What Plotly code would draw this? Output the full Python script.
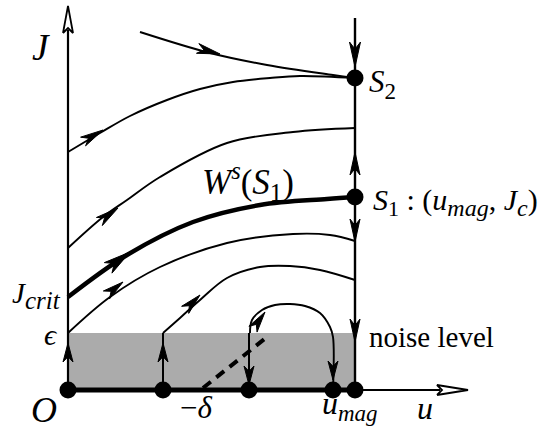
import numpy as np
import plotly.graph_objects as go

# ---------------- schematic data (u horizontal, J vertical; drawing units) ----------------
NOISE = 57          # noise level epsilon
JCRIT = 93
U_MAG = 287
U_AXIS_END = 400
J_AXIS_END = 384
S1 = (287, 193)
S2 = (287, 312)

# trajectories
top_u = [72, 142, 199, 265, 287]
top_J = [358, 337, 325, 315, 312]
A_u = [0, 32, 62, 99, 132, 165, 202, 232, 287]
A_J = [238, 257, 274, 290, 301, 308, 312, 314, 312]
B_u = [0, 35, 59, 92, 159, 225, 287]
B_J = [142, 173, 190, 213, 247, 258, 262]
C_u = [0, 59, 125, 192, 259, 287]          # W^s(S1), thick
C_J = [93, 135, 168, 185, 191, 193]
D_u = [0, 42, 92, 159, 225, 262, 287]
D_J = [57, 93, 123, 147, 156, 155, 149]
E_u = [95, 112, 132, 159, 192, 222, 252, 287]
E_J = [57, 72, 90, 112, 123, 124, 120, 110]
F_u = [182, 184, 194, 207, 222, 237, 252, 262, 265]
F_J = [57, 70, 80, 85, 86, 84, 77, 63, 53]
dash_u = [135, 199]
dash_J = [2, 53]

# points on the u axis
dots_u = [0, 95, 181, 265, 287]

# arrowheads: tip u, tip J, direction angle (deg), length, width
arr_u = [152, 35, 50, 62, 55, 132, 197, 0, 95, 181, 265, 287, 287, 287, 287]
arr_J = [336, 260, 182, 138, 108, 95, 78, 47, 47, 5, 10, 323, 238, 148, 48]
arr_ang = [-14, 30, 36, 36, 38, 45, 55, 90, 90, -90, -90, -90, 90, -90, -90]
arr_len = [23, 23, 23, 27, 21, 21, 21, 19, 19, 19, 19, 25, 23, 23, 23]
arr_wid = [10, 10, 10, 13, 10, 10, 10, 10, 10, 10, 10, 11, 10, 10, 10]

FONT = "Liberation Serif"
fig = go.Figure()


def line(u, J, w, shape="spline", dash=None):
    fig.add_trace(go.Scatter(x=u, y=J, mode="lines",
                             line=dict(color="black", width=w, shape=shape, dash=dash,
                                       smoothing=1.0),
                             hoverinfo="skip", showlegend=False))


# noise band
fig.add_trace(go.Scatter(x=[0, U_MAG, U_MAG, 0, 0], y=[0, 0, NOISE, NOISE, 0],
                         mode="lines", fill="toself", fillcolor="#ababab",
                         line=dict(width=0), hoverinfo="skip", showlegend=False))

# axes
line([0, 0], [0, J_AXIS_END - 24], 2.2, "linear")
line([U_MAG, U_AXIS_END - 28], [0, 0], 2.2, "linear")
line([0, U_MAG], [0, 0], 4.8, "linear")
# open arrowheads of the axes
ja = [-5, 0, 5, 0, -5]
jb = [J_AXIS_END - 27, J_AXIS_END, J_AXIS_END - 27, J_AXIS_END - 22, J_AXIS_END - 27]
fig.add_trace(go.Scatter(x=ja, y=jb, mode="lines", fill="toself", fillcolor="white",
                         line=dict(color="black", width=1.8), hoverinfo="skip", showlegend=False))
ua = [U_AXIS_END - 31, U_AXIS_END, U_AXIS_END - 31, U_AXIS_END - 26, U_AXIS_END - 31]
ub = [-5, 0, 5, 0, -5]
fig.add_trace(go.Scatter(x=ua, y=ub, mode="lines", fill="toself", fillcolor="white",
                         line=dict(color="black", width=1.8), hoverinfo="skip", showlegend=False))

# vertical line through S1, S2
line([U_MAG, U_MAG], [0, 372], 2.4, "linear")

# trajectories
line(top_u, top_J, 2.0)
line(A_u, A_J, 1.9)
line(B_u, B_J, 1.9)
line(C_u, C_J, 4.5)
line(D_u, D_J, 1.9)
line([95, 95], [0, NOISE], 2.0, "linear")
line(E_u, E_J, 1.9)
line([181, 181], [0, NOISE], 2.0, "linear")
line(F_u + [265], F_J + [0], 1.9)
line(dash_u, dash_J, 4, "linear", dash="10px,7px")

# arrowheads
xs, ys = [], []
for tu, tJ, a, L, W in zip(arr_u, arr_J, arr_ang, arr_len, arr_wid):
    d = np.array([np.cos(np.radians(a)), np.sin(np.radians(a))])
    n = np.array([-d[1], d[0]])
    T = np.array([tu, tJ], dtype=float)
    pts = [T, T - L * d + W / 2 * n, T - 0.72 * L * d, T - L * d - W / 2 * n, T]
    xs += [p[0] for p in pts] + [None]
    ys += [p[1] for p in pts] + [None]
fig.add_trace(go.Scatter(x=xs, y=ys, mode="lines", fill="toself", fillcolor="black",
                         line=dict(color="black", width=1), hoverinfo="skip", showlegend=False))

# points
fig.add_trace(go.Scatter(x=dots_u, y=[0] * len(dots_u), mode="markers",
                         marker=dict(color="black", size=17), hoverinfo="skip", showlegend=False))
fig.add_trace(go.Scatter(x=[S1[0], S2[0]], y=[S1[1], S2[1]], mode="markers",
                         marker=dict(color="black", size=17), hoverinfo="skip", showlegend=False))


def sub(t, s, italic=True):
    t = f"<i>{t}</i>" if italic else t
    return f'<sub><span style="font-size:{s}px">{t}</span></sub>'


# labels
labels = [
    (-27, 343, "<i>J</i>", "center", 37),
    (299, 306, "<i>S</i>" + sub("2", 23, False), "left", 31),
    (180, 209, "<i>W</i><sup><i>s</i></sup>(<i>S</i>" + sub("1", 25, False) + ")", "center", 35),
    (303, 188, "<i>S</i>" + sub("1", 22, False) + " : (<i>u</i>" + sub("mag", 24) + ", <i>J</i>"
     + sub("c", 24) + ")", "left", 30),
    (-5, 95, "<i>J</i>" + sub("crit", 25), "right", 29),
    (-17, 56, "<i>ϵ</i>", "center", 30),
    (299, 53, "noise level", "left", 29),
    (-24, -20, "<i>O</i>", "center", 36),
    (128, -17, "−<i>δ</i>", "center", 31),
    (282, -15, "<i>u</i>" + sub("mag", 23), "center", 32),
    (357, -18, "<i>u</i>", "center", 32),
]
for x, y, t, xa, s in labels:
    fig.add_annotation(x=x, y=y, xref="x", yref="y", text=t, showarrow=False,
                       xanchor=xa, yanchor="middle", font=dict(family=FONT, size=s, color="black"))

fig.update_layout(width=555, height=430, margin=dict(l=0, r=0, t=0, b=0),
                  autosize=False, paper_bgcolor="white", plot_bgcolor="white",
                  xaxis=dict(range=[-68, 487], visible=False, fixedrange=True),
                  yaxis=dict(range=[-40, 390], visible=False, fixedrange=True),
                  showlegend=False)
fig.write_html("out.html")
